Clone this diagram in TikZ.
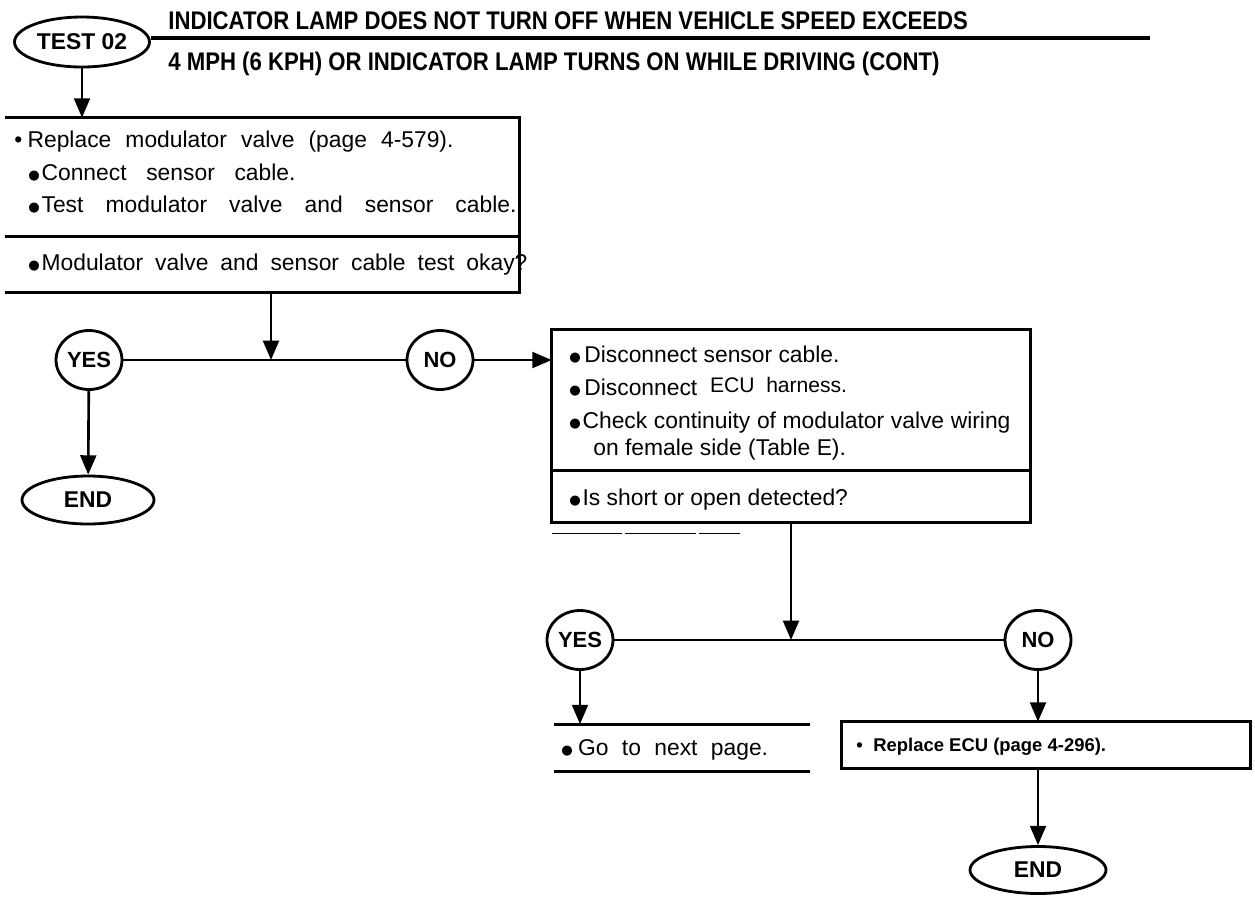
\documentclass[tikz,border=0pt]{standalone}
\usepackage{fontspec}
\setmainfont{Liberation Sans}
\newfontfamily\headfont[FakeStretch=0.87]{Liberation Sans}
\newfontfamily\symfont{DejaVu Sans}
\usetikzlibrary{arrows.meta,positioning,shapes.geometric}

\newcommand\blob{{\symfont\fontsize{7.5}{7.5}\selectfont\raisebox{0.4pt}{●}}}

\tikzset{
  oval/.style={draw, ellipse, line width=1.6pt, inner sep=0pt, font=\bfseries\fontsize{13}{13}\selectfont},
  answer/.style={draw, ellipse, line width=1.6pt, inner sep=0pt, minimum width=1.32cm, minimum height=1.18cm, font=\bfseries\fontsize{12.5}{12.5}\selectfont},
  area/.style={rectangle, inner sep=0pt},
  frame/.style={line width=1.7pt},
  flow/.style={-{Triangle[length=11pt,width=9pt]}, line width=1.5pt},
  txtline/.style={anchor=base west, inner sep=0pt, font=\fontsize{13}{15}\selectfont},
  headline/.style={anchor=base west, inner sep=0pt, font=\headfont\bfseries\fontsize{14.5}{16}\selectfont}
}

\begin{document}
\begin{tikzpicture}[x=0.02cm, y=-0.02cm]
  \useasboundingbox (0,0) rectangle (1255,897);
  % header : test label and title
  \node[oval, minimum width=2.7cm, minimum height=1.0cm] (test) at (82,42) {TEST 02};
  \node[headline] (head1) at (168,29) {INDICATOR LAMP DOES NOT TURN OFF WHEN VEHICLE SPEED EXCEEDS};
  \node[headline] (head2) at (168,70) {4 MPH (6 KPH) OR INDICATOR LAMP TURNS ON WHILE DRIVING (CONT)};
  \coordinate (ruleend) at (1150,38);
  \draw[line width=2.4pt] (test.east |- ruleend) -- (ruleend);
  % box 1 : replace valve
  \node[area, minimum width=10.28cm, minimum height=3.48cm] (b1) at (262,205) {};
  \coordinate (b1div) at (0,236);
  \draw[frame] (b1.north west) -- (b1.north east) -- (b1.south east) -- (b1.south west);
  \draw[frame] (b1.west |- b1div) -- (b1.east |- b1div);
  \draw[flow] (test) -- (test |- b1.north);
  \node[txtline] (b1l1) at (14,147) {•\hspace{3pt}\makebox[8.52cm][s]{Replace modulator valve (page 4-579).}};
  \node[txtline] (b1l2) at (28,180) {\blob\hspace{1pt}\makebox[5.08cm][s]{Connect sensor cable.}};
  \node[txtline] (b1l3) at (28,212) {\blob\hspace{1pt}\makebox[9.5cm][s]{Test modulator valve and sensor cable.}};
  \node[txtline] (b1l4) at (28,270) {\blob\hspace{1pt}\makebox[9.72cm][s]{Modulator valve and sensor cable test okay?}};
  % decision 1
  \node[answer] (yes1) at (89,360) {YES};
  \node[answer] (no1) at (440,360) {NO};
  \coordinate (j1) at (271,360);
  \draw[line width=1.5pt] (yes1) -- (no1);
  \draw[flow] (b1.south -| j1) -- (j1);
  \node[oval, minimum width=2.64cm, minimum height=0.96cm] (end1) at (88,500) {END};
  \draw[flow] (yes1) -- (end1);
  % box 2 : continuity check
  \node[area, minimum width=9.56cm, minimum height=3.84cm] (b2) at (791,426) {};
  \coordinate (b2div) at (0,470);
  \draw[frame] (b2.north west) rectangle (b2.south east);
  \draw[frame] (b2.west |- b2div) -- (b2.east |- b2div);
  \draw[flow] (no1) -- (no1 -| b2.west);
  \node[txtline] (b2l1) at (569,362) {\blob\hspace{2pt}Disconnect sensor cable.};
  \node[txtline] (b2l2) at (569,395) {\blob\hspace{2pt}Disconnect\ \ \raisebox{1.5pt}{\fontsize{12}{14}\selectfont ECU\ \ harness.}};
  \node[txtline] (b2l3) at (569,428) {\blob\hspace{1pt}\makebox[8.56cm][s]{Check continuity of modulator valve wiring}};
  \node[txtline] (b2l4) at (593,455) {on female side (Table E).};
  \node[txtline] (b2l5) at (569,505) {\blob\hspace{1pt}Is short or open detected?};
  \draw[line width=0.8pt, dash pattern=on 40pt off 2pt] ([yshift=-0.22cm]b2.south west) -- ++(188,0);
  % decision 2
  \node[answer] (yes2) at (580,640) {YES};
  \node[answer] (no2) at (1038,640) {NO};
  \coordinate (j2) at (b2.south |- yes2);
  \draw[line width=1.5pt] (yes2) -- (no2);
  \draw[flow] (b2.south) -- (j2);
  % yes branch
  \node[area, minimum width=5.1cm, minimum height=0.94cm] (go) at (682,748) {};
  \draw[frame] (go.north west) -- (go.north east);
  \draw[frame] (go.south west) -- (go.south east);
  \draw[flow] (yes2) -- (yes2 |- go.north);
  \node[txtline] (gol) at (561,755) {\blob\hspace{3pt}\makebox[3.8cm][s]{Go to next page.}};
  % no branch
  \node[area, minimum width=8.16cm, minimum height=0.92cm] (b3) at (1046,745) {};
  \draw[frame] (b3.north west) rectangle (b3.south east);
  \draw[flow] (no2) -- (no2 |- b3.north);
  \node[txtline, font=\bfseries\fontsize{10.5}{12}\selectfont] (b3l) at (856,751) {•\hspace{6pt}Replace ECU (page 4-296).};
  \node[oval, minimum width=2.72cm, minimum height=0.94cm] (end2) at (1038,870) {END};
  \draw[flow] (b3.south -| end2) -- (end2);
\end{tikzpicture}
\end{document}
